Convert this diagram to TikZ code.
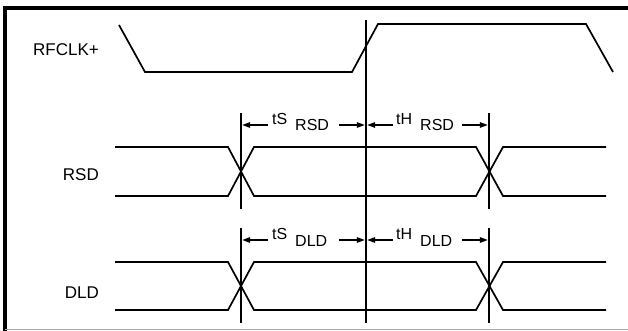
\documentclass[tikz,border=0pt]{standalone}
\usepackage{fontspec}
\setmainfont{Liberation Sans}
\usetikzlibrary{arrows.meta}
\begin{document}
\begin{tikzpicture}[x=1pt,y=-1pt,
  frame/.style={line width=3.5pt,line cap=rect},
  wave/.style={line width=1.7pt,line join=miter},
  marker/.style={line width=1.7pt},
  dimarrow/.style={line width=1.5pt,-{Triangle[length=8pt,width=5.5pt]},shorten >=1.2pt},
  siglabel/.style={font=\fontsize{17}{20}\selectfont,anchor=base east,inner sep=0pt},
  tlabel/.style={font=\fontsize{16}{18}\selectfont,anchor=base west,inner sep=0pt},
  sublabel/.style={font=\fontsize{16}{18}\selectfont,anchor=base west,inner sep=0pt}]
\useasboundingbox (0,0) rectangle (628,331);
% frame
\draw[frame] (628,8) -- (5,8) -- (5,333);
\draw[line width=1.3pt,color=black!35] (5,329.5) -- (628,329.5);
% signal labels
\node[siglabel] (lclk) at (99,56) {RFCLK+};
\node[siglabel] (lrsd) at (99,180) {RSD};
\node[siglabel] (ldld) at (99,298) {DLD};
% RFCLK+ waveform
\draw[wave] (119,25) -- (145,72) -- (352,72) -- (378,24) -- (586,24) -- (613,72);
% RSD waveform
\draw[wave] (115,147) -- (228,147) -- (254,196) -- (476,196) -- (503,147) -- (606,147);
\draw[wave] (115,196) -- (228,196) -- (254,147) -- (476,147) -- (503,196) -- (606,196);
% DLD waveform
\draw[wave] (115,262) -- (228,262) -- (254,310) -- (476,310) -- (503,262) -- (606,262);
\draw[wave] (115,310) -- (228,310) -- (254,262) -- (476,262) -- (503,310) -- (606,310);
% markers
\coordinate (ctop) at (366,20);
\coordinate (cbot) at (366,323);
\draw[marker] (ctop) -- (cbot);
\coordinate (r1t) at (241,113); \coordinate (r1b) at (241,209);
\coordinate (r2t) at (489,113); \coordinate (r2b) at (489,209);
\coordinate (d1t) at (241,228); \coordinate (d1b) at (241,323);
\coordinate (d2t) at (489,228); \coordinate (d2b) at (489,323);
\draw[marker] (r1t) -- (r1b);
\draw[marker] (r2t) -- (r2b);
\draw[marker] (d1t) -- (d1b);
\draw[marker] (d2t) -- (d2b);
% RSD timing labels
\node[tlabel] (tsr) at (272,124.5) {tS};
\node[sublabel] (tsrs) at (295,131) {RSD};
\node[tlabel] (thr) at (396,124.5) {tH};
\node[sublabel] (thrs) at (420,131) {RSD};
\coordinate (ar1) at (241,125); \coordinate (ar2) at (366,125); \coordinate (ar3) at (489,125);
\coordinate (ar1s) at (268,125); \coordinate (ar2s) at (339,125);
\coordinate (ar3s) at (393,125); \coordinate (ar4s) at (462,125);
\draw[dimarrow] (ar1s) -- (ar1);
\draw[dimarrow] (ar2s) -- (ar2);
\draw[dimarrow] (ar3s) -- (ar2);
\draw[dimarrow] (ar4s) -- (ar3);
% DLD timing labels
\node[tlabel] (tsd) at (272,239.5) {tS};
\node[sublabel] (tsds) at (295,246) {DLD};
\node[tlabel] (thd) at (396,239.5) {tH};
\node[sublabel] (thds) at (420,246) {DLD};
\coordinate (ad1) at (241,240); \coordinate (ad2) at (366,240); \coordinate (ad3) at (489,240);
\coordinate (ad1s) at (268,240); \coordinate (ad2s) at (339,240);
\coordinate (ad3s) at (393,240); \coordinate (ad4s) at (462,240);
\draw[dimarrow] (ad1s) -- (ad1);
\draw[dimarrow] (ad2s) -- (ad2);
\draw[dimarrow] (ad3s) -- (ad2);
\draw[dimarrow] (ad4s) -- (ad3);
\end{tikzpicture}
\end{document}
